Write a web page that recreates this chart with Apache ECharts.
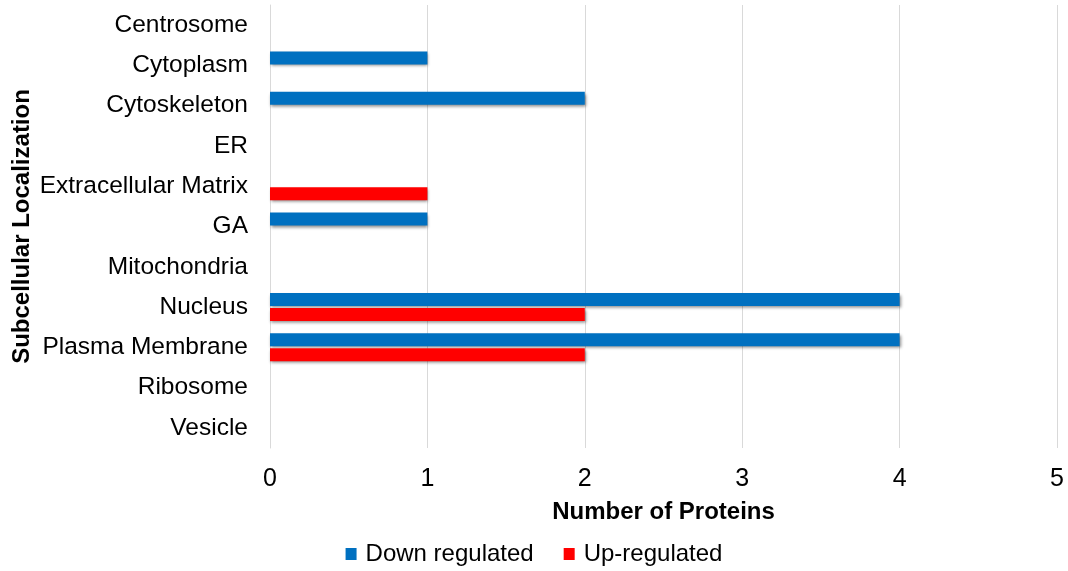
<!DOCTYPE html>
<html>
<head>
<meta charset="utf-8">
<script src="https://cdn.jsdelivr.net/npm/echarts@6/dist/echarts.min.js"></script>
<style>
html,body{margin:0;padding:0;background:#fff;}
#chart{width:1068px;height:571px;}
</style>
</head>
<body>
<div id="chart"></div>
<script>
const categories = ["Centrosome","Cytoplasm","Cytoskeleton","ER","Extracellular Matrix","GA","Mitochondria","Nucleus","Plasma Membrane","Ribosome","Vesicle"];
const downRegulated = [0,1,2,0,0,1,0,4,4,0,0];
const upRegulated = [0,0,0,0,1,0,0,2,2,0,0];
const xTicks = [0,1,2,3,4,5];

const font = "'Liberation Sans', Arial, sans-serif";
const chart = echarts.init(document.getElementById('chart'));
const shadow = {shadowColor:'rgba(0,0,0,0.45)', shadowBlur:3, shadowOffsetX:1, shadowOffsetY:2};
chart.setOption({
  animation:false,
  grid:{left:270, right:11, top:5, bottom:123, outerBoundsMode:'none', containLabel:false},
  legend:{
    data:['Down regulated','Up-regulated'],
    bottom:0, left:'center',
    icon:'rect', itemWidth:11, itemHeight:12, itemGap:30,
    textStyle:{fontFamily:font, fontSize:24, color:'#000', padding:[0,0,0,4]}
  },
  xAxis:{
    type:'value', min:xTicks[0], max:xTicks[xTicks.length-1], interval:1,
    name:'Number of Proteins', nameLocation:'middle', nameGap:52,
    nameTextStyle:{fontFamily:font, fontSize:24, fontWeight:'bold', color:'#000'},
    axisLine:{show:false}, axisTick:{show:false},
    axisLabel:{fontFamily:font, fontSize:25, color:'#000', margin:19},
    splitLine:{show:true, lineStyle:{color:'#d9d9d9', width:1}}
  },
  yAxis:{
    type:'category', data:categories, inverse:true,
    name:'Subcellular Localization', nameLocation:'middle', nameGap:236, nameRotate:90,
    nameMoveOverlap:false,
    nameTextStyle:{fontFamily:font, fontSize:24, fontWeight:'bold', color:'#000'},
    axisLine:{show:true, lineStyle:{color:'#d9d9d9', width:1}},
    axisTick:{show:false},
    axisLabel:{fontFamily:font, fontSize:24.5, color:'#000', margin:22}
  },
  series:[
    {name:'Down regulated', type:'bar', data:downRegulated, barWidth:13, barGap:'15%',
     itemStyle:Object.assign({color:'#0070C0'}, shadow)},
    {name:'Up-regulated', type:'bar', data:upRegulated, barWidth:13, barGap:'15%',
     itemStyle:Object.assign({color:'#FF0000'}, shadow)}
  ]
});
</script>
</body>
</html>
